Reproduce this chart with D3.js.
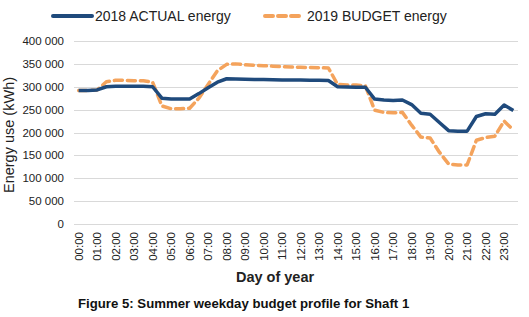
<!DOCTYPE html>
<html>
<head>
<meta charset="utf-8">
<script src="https://cdn.jsdelivr.net/npm/d3@7"></script>
<style>
  body { margin: 0; background: #fff; }
  svg { display: block; font-family: "Liberation Sans", Arial, sans-serif; }
</style>
</head>
<body>
<div id="chart"></div>
<script>
// half-hour slots, label shown every hour
var slots = [];
for (var h = 0; h < 24; h++) {
    var hh = (h < 10 ? "0" : "") + h;
    slots.push(hh + ":00");
    slots.push(hh + ":30");
}

var yTicks = [0, 50000, 100000, 150000, 200000, 250000, 300000, 350000, 400000];

var actual2018 = [292000, 292000, 293000, 300000, 301000, 301000, 301000, 301000,
    300000, 275000, 273000, 273000, 273000, 285000, 298000, 310000,
    317500, 317000, 316500, 316000, 316000, 315500, 315000, 314500,
    314500, 314000, 314000, 313500, 300000, 299500, 299000, 299000,
    273000, 271000, 270000, 271000, 261000, 242000, 240000, 222000,
    204000, 203000, 203000, 235000, 241000, 240000, 260000, 248000];

var budget2019 = [292000, 292000, 293000, 311000, 314000, 314000, 313000, 313000,
    310000, 258000, 252000, 252000, 253000, 275000, 305000, 335000,
    349000, 350000, 348000, 347000, 346000, 345000, 344000, 343000,
    342500, 342000, 341500, 341000, 305000, 304000, 304000, 302000,
    249000, 244000, 243000, 244000, 216000, 190000, 188000, 157000,
    131000, 129000, 129000, 183000, 189000, 192000, 225000, 205000];

var blue = "#1f4a7c", orange = "#f4a35c";

var width = 529, height = 317;
var margin = {top: 41, right: 11, bottom: 93, left: 74};

var svg = d3.select("#chart").append("svg")
    .attr("width", width)
    .attr("height", height);

var x = d3.scaleBand()
    .domain(slots)
    .range([margin.left, width - margin.right]);

var y = d3.scaleLinear()
    .domain([0, 400000])
    .range([height - margin.bottom, margin.top]);

var fmt = function(v) { return d3.format(",")(v).replace(/,/g, " "); };

// gridlines
svg.append("g")
    .selectAll("line")
    .data(yTicks)
    .join("line")
    .attr("x1", margin.left)
    .attr("x2", width - margin.right)
    .attr("y1", d => Math.round(y(d)) + 0.5)
    .attr("y2", d => Math.round(y(d)) + 0.5)
    .attr("stroke", "#d9d9d9")
    .attr("stroke-width", 1);

// y labels
svg.append("g")
    .selectAll("text")
    .data(yTicks)
    .join("text")
    .attr("x", 64)
    .attr("y", d => y(d) + 4)
    .attr("text-anchor", "end")
    .attr("font-size", 11.5)
    .attr("fill", "#222")
    .text(fmt);

// x labels, every hour
svg.append("g")
    .selectAll("text")
    .data(slots.filter((d, i) => i % 2 == 0))
    .join("text")
    .attr("transform", d => "translate(" + (x(d) + x.bandwidth() / 2 + 4) + "," + 232 + ") rotate(-90)")
    .attr("text-anchor", "end")
    .attr("font-size", 11.5)
    .attr("fill", "#222")
    .text(d => d);

// lines
var line = d3.line()
    .x((d, i) => x(slots[i]) + x.bandwidth() / 2)
    .y(d => y(d));

svg.append("path")
    .datum(budget2019)
    .attr("fill", "none")
    .attr("stroke", orange)
    .attr("stroke-width", 3.5)
    .attr("stroke-dasharray", "8,5")
    .attr("stroke-linecap", "round")
    .attr("stroke-linejoin", "round")
    .attr("d", line);

svg.append("path")
    .datum(actual2018)
    .attr("fill", "none")
    .attr("stroke", blue)
    .attr("stroke-width", 3.5)
    .attr("stroke-linejoin", "round")
    .attr("d", line);

// axis titles
svg.append("text")
    .attr("transform", "translate(14,135) rotate(-90)")
    .attr("text-anchor", "middle")
    .attr("font-size", 14.5)
    .attr("fill", "#222")
    .text("Energy use (kWh)");

svg.append("text")
    .attr("x", 275)
    .attr("y", 282)
    .attr("text-anchor", "middle")
    .attr("font-size", 14.5)
    .attr("font-weight", "bold")
    .attr("fill", "#222")
    .text("Day of year");

svg.append("text")
    .attr("x", 78)
    .attr("y", 308)
    .attr("font-size", 13.2)
    .attr("font-weight", "bold")
    .attr("fill", "#111")
    .text("Figure 5: Summer weekday budget profile for Shaft 1");

// legend
var legend = svg.append("g");
legend.append("line")
    .attr("x1", 53).attr("x2", 92)
    .attr("y1", 16).attr("y2", 16)
    .attr("stroke", blue)
    .attr("stroke-width", 4)
    .attr("stroke-linecap", "round");
legend.append("text")
    .attr("x", 95).attr("y", 21)
    .attr("font-size", 14)
    .attr("fill", "#222")
    .text("2018 ACTUAL energy");
legend.append("line")
    .attr("x1", 265).attr("x2", 299)
    .attr("y1", 16).attr("y2", 16)
    .attr("stroke", orange)
    .attr("stroke-width", 4)
    .attr("stroke-dasharray", "8,5")
    .attr("stroke-linecap", "round");
legend.append("text")
    .attr("x", 307).attr("y", 21)
    .attr("font-size", 14)
    .attr("fill", "#222")
    .text("2019 BUDGET energy");
</script>
</body>
</html>
